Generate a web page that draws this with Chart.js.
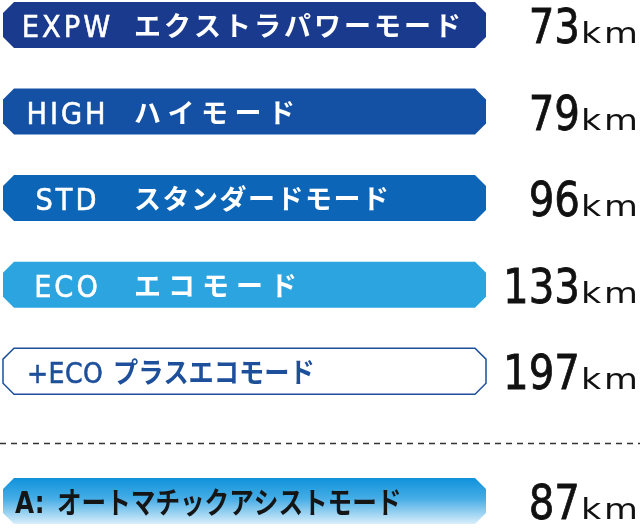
<!DOCTYPE html>
<html><head><meta charset="utf-8">
<script src="https://cdn.jsdelivr.net/npm/chart.js@4.4.1/dist/chart.umd.min.js"></script>
<style>html,body{margin:0;padding:0;background:#fff;overflow:hidden}canvas{display:block}</style>
</head><body>
<canvas id="c" width="640" height="528"></canvas>
<script>
// ---- data ----
const modeCodes = ['EXPW', 'HIGH', 'STD', 'ECO', '+ECO', 'A:'];
const modeNames = ['エクストラパワーモード', 'ハイモード', 'スタンダードモード', 'エコモード', 'プラスエコモード', 'オートマチックアシストモード'];
const rangeKm = [73, 79, 96, 133, 197, 87];
const modeGroup = ['manual', 'manual', 'manual', 'manual', 'manual', 'auto'];
const bannerLength = [1, 1, 1, 1, 1, 1];
const unitLabel = 'km';

// ---- layout helpers (computed) ----
const GROUP_GAP = 0.5;
const rowPos = [];
{
  let extra = 0;
  modeGroup.forEach((g, i) => {
    if (i > 0 && g !== modeGroup[i - 1]) extra += GROUP_GAP;
    rowPos.push(i + extra);
  });
}

const rowStyles = [
  {fill: '#1a3b8d', text: '#ffffff', layout: 'column', spacing: 3},
  {fill: '#1450a3', text: '#ffffff', layout: 'column', spacing: 6.5},
  {fill: '#0c65b7', text: '#ffffff', layout: 'column', spacing: 1.5},
  {fill: '#2ba4df', text: '#ffffff', layout: 'column', spacing: 7},
  {fill: '#ffffff', stroke: '#1d4f9b', text: '#1d4f9b', layout: 'inline', codeOff: 24, nameOff: 110, squeeze: 0.9, size: 28, codeSize: 28, codeSpacing: 0.5},
  {fill: 'gradient', text: '#151515', layout: 'inline', codeOff: 12, nameOff: 54, squeeze: 0.82, size: 30, codeSize: 30, codeSpacing: 1, bold: true}
];

function drawSpaced(ctx, text, x, y, spacing, stroke) {
  for (const ch of text) {
    ctx.fillText(ch, x, y);
    if (stroke) ctx.strokeText(ch, x, y);
    x += ctx.measureText(ch).width + spacing;
  }
  return x - spacing;
}
function spacedWidth(ctx, text, spacing) {
  let w = 0;
  for (const ch of text) w += ctx.measureText(ch).width + spacing;
  return w - spacing;
}

const bannerPlugin = {
  id: 'banners',
  afterDatasetsDraw(chart) {
    const ctx = chart.ctx;
    const meta = chart.getDatasetMeta(0);
    const ys = chart.scales.y;
    for (let i = 1; i < modeGroup.length; i++) {
      if (modeGroup[i] !== modeGroup[i - 1]) {
        const sv = rowPos[i - 1] + (rowPos[i] - rowPos[i - 1]) * 0.55;
        const sy = Math.round(ys.getPixelForValue(sv)) + 0.5;
        ctx.save();
        ctx.strokeStyle = '#333';
        ctx.lineWidth = 1.5;
        ctx.setLineDash([6, 5]);
        ctx.beginPath();
        ctx.moveTo(0, sy); ctx.lineTo(chart.width, sy);
        ctx.stroke();
        ctx.restore();
      }
    }
    meta.data.forEach((bar, i) => {
      const p = bar.getProps(['x', 'y', 'base', 'height'], true);
      const st = rowStyles[i];
      const L = Math.min(p.base, p.x), R = Math.max(p.base, p.x);
      const T = p.y - p.height / 2, B = p.y + p.height / 2, c = 11;
      ctx.save();
      ctx.beginPath();
      ctx.moveTo(L + c, T); ctx.lineTo(R - c, T); ctx.lineTo(R, T + c); ctx.lineTo(R, B - c);
      ctx.lineTo(R - c, B); ctx.lineTo(L + c, B); ctx.lineTo(L, B - c); ctx.lineTo(L, T + c);
      ctx.closePath();
      if (st.fill === 'gradient') {
        const g = ctx.createLinearGradient(0, T, 0, B);
        g.addColorStop(0, '#0f92db');
        g.addColorStop(0.45, '#46ade6');
        g.addColorStop(1, '#d9eefa');
        ctx.fillStyle = g;
      } else {
        ctx.fillStyle = st.fill;
      }
      ctx.fill();
      if (st.stroke) {
        ctx.strokeStyle = st.stroke;
        ctx.lineWidth = 1.5;
        ctx.stroke();
      }
      ctx.restore();

      // label text
      ctx.save();
      ctx.fillStyle = st.text;
      ctx.strokeStyle = st.text;
      ctx.lineWidth = 0.6;
      ctx.textBaseline = 'alphabetic';
      ctx.textAlign = 'left';
      if (st.layout === 'column') {
        ctx.font = '31px "DejaVu Sans"';
        const cx = 0.88;
        const w = spacedWidth(ctx, modeCodes[i], 3.4) * cx;
        ctx.save();
        ctx.translate(L + 63 - w / 2, p.y + 12);
        ctx.scale(cx, 1);
        drawSpaced(ctx, modeCodes[i], 0, 0, 3.4, true);
        ctx.restore();
        ctx.font = '700 27px "Noto Sans CJK JP"';
        ctx.textBaseline = 'middle';
        drawSpaced(ctx, modeNames[i], L + 131, p.y + 1, st.spacing, false);
      } else {
        ctx.save();
        ctx.translate(L + st.codeOff, p.y + 12);
        ctx.scale(st.squeeze, 1);
        ctx.font = (st.bold ? 'bold ' : '') + st.codeSize + 'px "DejaVu Sans"';
        drawSpaced(ctx, modeCodes[i], 0, 0, st.codeSpacing, !st.bold);
        ctx.restore();
        ctx.save();
        ctx.translate(L + st.nameOff, p.y + 1);
        ctx.scale(st.squeeze, 1);
        ctx.textBaseline = 'middle';
        ctx.font = '700 ' + st.size + 'px "Noto Sans CJK JP"';
        drawSpaced(ctx, modeNames[i], 0, 0, 0, false);
        ctx.restore();
      }
      ctx.restore();

      // value text
      const right = chart.width - 2;
      const base = p.y + 18;
      ctx.save();
      ctx.fillStyle = '#111';
      ctx.strokeStyle = '#111';
      ctx.lineWidth = 0.8;
      ctx.textBaseline = 'alphabetic';
      ctx.textAlign = 'left';
      ctx.font = '29px "DejaVu Sans"';
      const kx = 1.2;
      const wk = ctx.measureText('k').width, wm = ctx.measureText('m').width;
      const kmW = (wk + wm) * kx + 3;
      ctx.save();
      ctx.translate(right - kmW, base);
      ctx.scale(kx, 1);
      ctx.fillText('k', 0, 0);
      ctx.fillText('m', wk + 3 / kx, 0);
      ctx.restore();
      ctx.font = '48px "DejaVu Sans"';
      const nx = 0.84;
      const num = String(rangeKm[i]);
      const nw = ctx.measureText(num).width * nx;
      ctx.save();
      ctx.translate(right - kmW - 1 - nw, base);
      ctx.scale(nx, 1);
      ctx.fillText(num, 0, 0);
      ctx.strokeText(num, 0, 0);
      ctx.restore();
      ctx.restore();
    });
  }
};

const yMin = -0.289, yMax = rowPos[rowPos.length - 1] + 0.312;

new Chart(document.getElementById('c'), {
  type: 'bar',
  data: {
    datasets: [{
      data: bannerLength.map((v, i) => ({x: v, y: rowPos[i]})),
      backgroundColor: 'rgba(0,0,0,0)',
      borderWidth: 0,
      barThickness: 46
    }]
  },
  options: {
    indexAxis: 'y',
    responsive: false,
    animation: false,
    layout: {padding: {left: 3, right: 154, top: 0, bottom: 0}},
    plugins: {legend: {display: false}, tooltip: {enabled: false}, title: {display: false}},
    scales: {
      x: {type: 'linear', min: 0, max: 1, display: false, offset: false},
      y: {type: 'linear', reverse: true, min: yMin, max: yMax, display: false, offset: false}
    }
  },
  plugins: [bannerPlugin]
});
</script>
</body></html>
